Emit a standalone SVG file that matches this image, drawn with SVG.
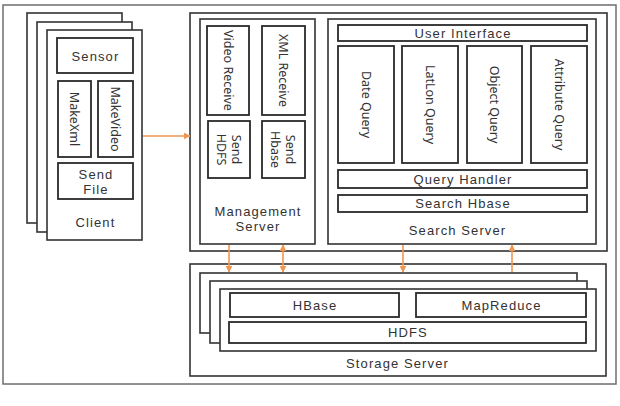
<svg xmlns="http://www.w3.org/2000/svg" width="620" height="406" viewBox="0 0 620 406">
<defs>
<style>
.frame{fill:none;stroke:#6e6e6e;stroke-width:1.5}
.box{fill:#fff;stroke:#333;stroke-width:1.6}
.inner{fill:#fff;stroke:#2a2a2a;stroke-width:1.8}
text{font-family:"Noto Sans","Open Sans",sans-serif;font-size:12.5px;fill:#333;text-anchor:middle;dominant-baseline:central}
text.h{font-family:"Liberation Sans",Arial,sans-serif;font-size:13px;letter-spacing:1.1px}
.conn{stroke:#F0964F;stroke-width:1.6;fill:none}
</style>
<marker id="ah" viewBox="0 0 10 10" refX="9" refY="5" markerWidth="7" markerHeight="7" orient="auto-start-reverse" markerUnits="userSpaceOnUse">
<path d="M0,0 L10,5 L0,10 z" fill="#F0964F"/>
</marker>
</defs>
<rect x="0" y="0" width="620" height="406" fill="#fff"/>
<rect class="frame" x="3" y="5" width="613" height="379"/>

<g id="client">
<rect class="box" x="27" y="13" width="95" height="210"/>
<rect class="box" x="37" y="22" width="95" height="210"/>
<rect class="box" x="47" y="30" width="95" height="210"/>
<g id="sensor"><rect class="inner" x="57" y="38" width="76" height="35"/><text class="h" x="95.5" y="56">Sensor</text></g>
<g id="makexml"><rect class="inner" x="58" y="81" width="33" height="76"/><text transform="translate(74.5,119) rotate(90)">MakeXml</text></g>
<g id="makevideo"><rect class="inner" x="98" y="81" width="35" height="76"/><text transform="translate(115.5,119) rotate(90)">MakeVideo</text></g>
<g id="sendfile"><rect class="inner" x="58" y="163" width="75" height="36"/><text class="h" x="96" y="174">Send<tspan x="96" dy="15">File</tspan></text></g>
<text class="h" x="95.5" y="222">Client</text>
</g>

<rect class="box" x="190" y="13" width="417" height="238"/>

<g id="management">
<rect class="box" x="200" y="19" width="115" height="225"/>
<g id="videoreceive"><rect class="inner" x="207" y="26" width="42" height="89"/><text transform="translate(228,70.5) rotate(90)">Video Receive</text></g>
<g id="xmlreceive"><rect class="inner" x="262" y="26" width="43" height="89"/><text transform="translate(283.5,70.5) rotate(90)">XML Receive</text></g>
<g id="sendhdfs"><rect class="inner" x="208" y="121" width="42" height="57"/><text transform="translate(236,149.5) rotate(90)">Send<tspan x="0" dy="14">HDFS</tspan></text></g>
<g id="sendhbase"><rect class="inner" x="262" y="121" width="43" height="57"/><text transform="translate(290,149.5) rotate(90)">Send<tspan x="0" dy="14">Hbase</tspan></text></g>
<text class="h" x="258" y="211">Management<tspan x="258" dy="15">Server</tspan></text>
</g>

<g id="search">
<rect class="box" x="328" y="19" width="268" height="225"/>
<g id="ui"><rect class="inner" x="338" y="25" width="249" height="16"/><text class="h" x="463" y="33">User Interface</text></g>
<g id="datequery"><rect class="inner" x="338" y="46" width="56" height="117"/><text transform="translate(366,104.5) rotate(90)">Date Query</text></g>
<g id="latlonquery"><rect class="inner" x="402" y="46" width="56" height="117"/><text transform="translate(430,104.5) rotate(90)">LatLon Query</text></g>
<g id="objectquery"><rect class="inner" x="467" y="46" width="55" height="117"/><text transform="translate(494.5,104.5) rotate(90)">Object Query</text></g>
<g id="attributequery"><rect class="inner" x="531" y="46" width="56" height="117"/><text transform="translate(559,104.5) rotate(90)">Attribute Query</text></g>
<g id="queryhandler"><rect class="inner" x="338" y="170" width="249" height="18"/><text class="h" x="463" y="179">Query Handler</text></g>
<g id="searchhbase"><rect class="inner" x="338" y="195" width="249" height="17"/><text class="h" x="463" y="203.5">Search Hbase</text></g>
<text class="h" x="457.5" y="230">Search Server</text>
</g>

<g id="storage">
<rect class="box" x="190" y="264" width="416" height="112"/>
<rect class="box" x="200" y="273" width="377" height="60"/>
<rect class="box" x="210" y="281" width="377" height="62"/>
<rect class="box" x="220" y="289" width="376" height="62"/>
<g id="hbase"><rect class="inner" x="230" y="293" width="169" height="24"/><text class="h" x="315" y="305">HBase</text></g>
<g id="mapreduce"><rect class="inner" x="416" y="293" width="170" height="24"/><text class="h" x="501.5" y="305">MapReduce</text></g>
<g id="hdfs"><rect class="inner" x="229" y="322" width="357" height="21"/><text class="h" x="408" y="332.5">HDFS</text></g>
<text class="h" x="397.5" y="363">Storage Server</text>
</g>

<g id="connectors">
<line class="conn" x1="143" y1="136" x2="190" y2="136" marker-end="url(#ah)"/>
<line class="conn" x1="229" y1="245" x2="229" y2="272" marker-end="url(#ah)"/>
<line class="conn" x1="283" y1="245" x2="283" y2="272" marker-start="url(#ah)" marker-end="url(#ah)"/>
<line class="conn" x1="403" y1="245" x2="403" y2="272" marker-end="url(#ah)"/>
<line class="conn" x1="512" y1="245" x2="512" y2="272" marker-start="url(#ah)"/>
</g>
</svg>
